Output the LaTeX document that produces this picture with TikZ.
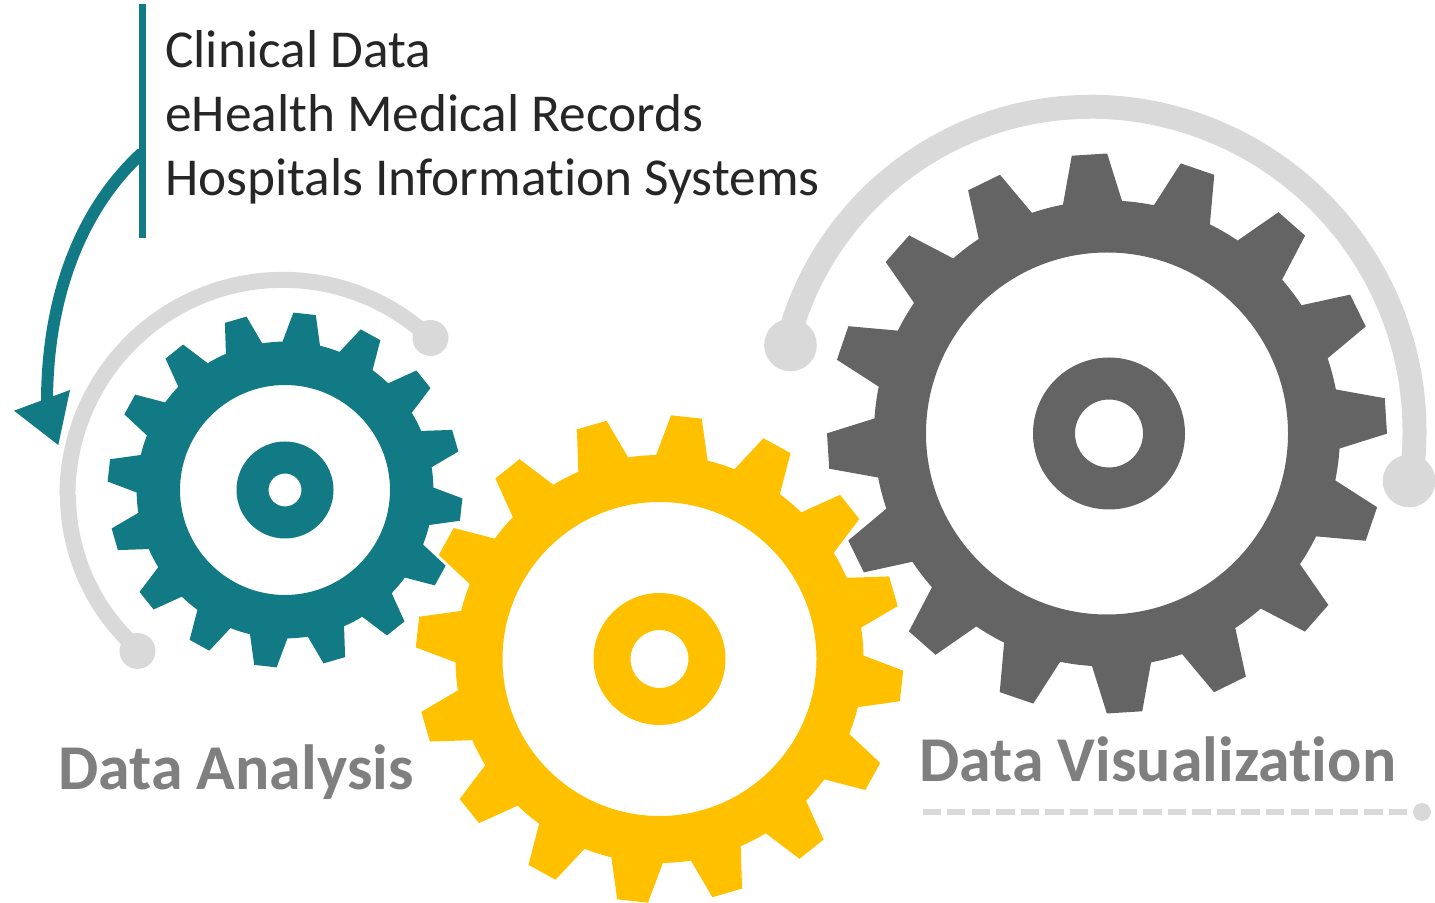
\documentclass[tikz,border=0pt]{standalone}
\usepackage{fontspec}
\setmainfont[Ligatures=NoCommon]{Carlito}
\definecolor{gearteal}{HTML}{117A85}
\definecolor{gearyellow}{HTML}{FFC000}
\definecolor{geargrey}{HTML}{646464}
\definecolor{arcgrey}{HTML}{D9D9D9}
\definecolor{labelgrey}{HTML}{7F7F7F}
\definecolor{listtext}{HTML}{262626}
% #1 name, #2 x, #3 y, #4 tip r, #5 root r, #6 hole r, #7 hub r, #8 bore r, #9 rotation; colour in \gearcol, hub shift in \hubdx
\newcommand{\gearshape}[9]{%
  \coordinate (#1) at (#2,#3);
  \coordinate (#1hub) at ([xshift=\hubdx*0.75pt]#1);
  \fill[\gearcol,even odd rule] (#1) circle[radius=#5] (#1) circle[radius=#6];
  \fill[\gearcol,even odd rule] (#1hub) circle[radius=#7] (#1hub) circle[radius=#8];
  \foreach \i in {0,...,15}{%
    \pgfmathsetmacro{\ang}{90-(#9)-\i*22.5}
    \pgfmathsetmacro{\inr}{#5-6}
    \fill[\gearcol] ([shift={(\ang+7.3:\inr)}]#1) -- ([shift={(\ang+7.3:#5)}]#1)
      -- ([shift={(\ang+3.63:#4)}]#1) -- ([shift={(\ang-3.63:#4)}]#1)
      -- ([shift={(\ang-7.3:#5)}]#1) -- ([shift={(\ang-7.3:\inr)}]#1) -- cycle;
  }%
}
\tikzset{
  listlabel/.style={anchor=base west,inner sep=0pt,text=listtext,font=\fontsize{40pt}{47pt}\selectfont},
  gearlabel/.style={anchor=base west,inner sep=0pt,text=labelgrey,font=\fontsize{47.9pt}{55pt}\selectfont\bfseries},
  bigdot/.style={circle,fill=arcgrey,inner sep=0pt,minimum size=39.5pt},
  middot/.style={circle,fill=arcgrey,inner sep=0pt,minimum size=27pt},
  smalldot/.style={circle,fill=arcgrey,inner sep=0pt,minimum size=13.5pt},
  bigarc/.style={draw=arcgrey,line width=18pt},
  midarc/.style={draw=arcgrey,line width=12pt},
  tealline/.style={draw=gearteal,line width=5pt},
  tealcurve/.style={draw=gearteal,line width=9pt},
  dashline/.style={draw=arcgrey,line width=4.5pt,dash pattern=on 13.8pt off 4.6pt},
}
\begin{document}
\begin{tikzpicture}[x=0.75pt,y=0.75pt]
\useasboundingbox (0,0) rectangle (1435,903);
% gears
\def\hubdx{0}
\def\gearcol{gearteal}
\gearshape{gearA}{285}{413}{177.6}{148.4}{105}{48.5}{16.5}{6.35}
\def\gearcol{gearyellow}
\gearshape{gearB}{659.5}{244}{244}{204}{157}{66}{29}{6.35}
\def\hubdx{2}
\def\gearcol{geargrey}
\gearshape{gearC}{1107}{469.5}{280}{233}{181}{76}{34}{-3.6}
% small grey arc
\node[middot] (dotA) at (430.5,565) {};
\node[middot] (dotB) at (137.5,252) {};
\coordinate (arcAstart) at (421,573);
\coordinate (arcAleft) at (68,408);
\draw[midarc] (arcAstart) arc[start angle=50.1,end angle=180,radius=215.4];
\draw[midarc] (arcAleft) arc[start angle=180,end angle=228,radius=205];
% big grey arc
\node[bigdot] (dotC) at (790.5,558) {};
\node[bigdot] (dotD) at (1409,422) {};
\coordinate (arcCstart) at (793,580);
\coordinate (arcCtop) at (1090,796.3);
\draw[bigarc] (arcCstart) arc[start angle=162.1,end angle=90,radius=312];
\draw[bigarc] (arcCtop) arc[start angle=90,end angle=-7,radius=324.5];
% list bar and arrow
\coordinate (barTop) at (142.3,899);
\coordinate (barEnd) at (142.3,665.3);
\coordinate (curveStart) at (142,750);
\coordinate (curveEnd) at (47,500);
\draw[tealcurve] (curveStart) .. controls (85,698) and (47,613) .. (curveEnd);
\draw[tealline] (barTop) -- (barEnd);
\fill[gearteal] (14,492.3) -- (70,513) -- (58.3,458) -- cycle;
% list text
\node[listlabel] (listA) at (165,835) {Clinical Data};
\node[listlabel] (listB) at (165,771) {eHealth Medical Records};
\node[listlabel] (listC) at (165,707) {Hospitals Information Systems};
% gear labels
\node[gearlabel] (labelA) at (58,113) {Data Analysis};
\node[gearlabel] (labelC) at (919,121.5) {Data Visualization};
% dashed rule
\node[smalldot] (dotE) at (1422,91) {};
\coordinate (dashStart) at (922.5,91);
\draw[dashline] (dashStart) -- (dotE);
\end{tikzpicture}
\end{document}
